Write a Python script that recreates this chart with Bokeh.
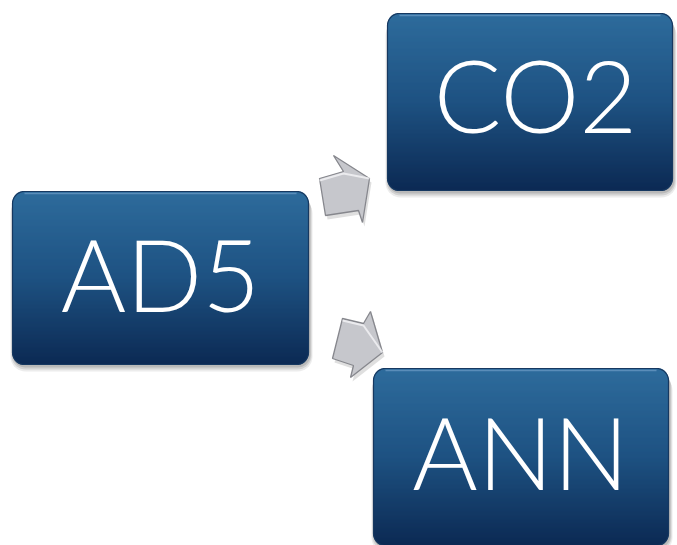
import numpy as np
from bokeh.plotting import figure
from bokeh.models import Range1d
from bokeh.core.properties import value
from bokeh.embed import file_html
from bokeh.resources import INLINE

# ---- diagram content ----
labels = ["AD5", "CO2", "ANN"]
box_left = [12, 387, 373]
box_right = [308, 672, 668]
box_top = [191, 13, 368]
box_bottom = [364, 190, 545]
label_x = [160, 535, 520]
label_baseline = [312, 133, 490]

# arrow outlines (screen px, y downward)
arrow_xs = [
    [319, 343, 333, 369, 362, 358, 325],
    [342, 363, 370, 382, 350, 353, 332],
]
arrow_ys = [
    [178, 171, 155, 178, 222, 210, 215],
    [318, 323, 311, 352, 377, 365, 358],
]

RADIUS = 12
TOP_RGB = (46, 108, 156)
MID_RGB = (30, 82, 130)
BOT_RGB = (12, 42, 84)


def rounded_rect(l, r, t, b, rad, n=10):
    xs, ys = [], []
    corners = [(r - rad, t + rad, -90, 0), (r - rad, b - rad, 0, 90),
               (l + rad, b - rad, 90, 180), (l + rad, t + rad, 180, 270)]
    for cx, cy, a0, a1 in corners:
        for a in np.linspace(np.radians(a0), np.radians(a1), n):
            xs.append(cx + rad * np.cos(a))
            ys.append(cy + rad * np.sin(a))
    return xs, ys


def grad(t):
    if t < 0.5:
        a, b, u = TOP_RGB, MID_RGB, t / 0.5
    else:
        a, b, u = MID_RGB, BOT_RGB, (t - 0.5) / 0.5
    c = [int(round(a[i] + (b[i] - a[i]) * u)) for i in range(3)]
    return "#%02x%02x%02x" % tuple(c)


p = figure(width=677, height=545, x_range=Range1d(0, 677), y_range=Range1d(545, 0),
           output_backend="svg", toolbar_location=None, x_axis_type=None, y_axis_type=None,
           min_border=0)
p.grid.visible = False
p.outline_line_color = None
p.background_fill_color = "white"
p.border_fill_color = "white"

# shadows of boxes
for k in range(3):
    for off, grow, alpha in [(7, 3, 0.10), (5, 2, 0.14), (3, 1, 0.18)]:
        xs, ys = rounded_rect(box_left[k] - grow + 1, box_right[k] + grow + 1,
                              box_top[k] + off, box_bottom[k] + off, RADIUS + grow)
        p.patch(xs, ys, fill_color="#404040", fill_alpha=alpha, line_color=None)

# opaque base for each box
for k in range(3):
    xs, ys = rounded_rect(box_left[k], box_right[k], box_top[k], box_bottom[k], RADIUS)
    p.patch(xs, ys, fill_color=grad(0.5), line_color=None)

# gradient boxes made of overlapping strips
ql, qr, qt, qb, qc = [], [], [], [], []
for k in range(3):
    l, r, t, b = box_left[k], box_right[k], box_top[k], box_bottom[k]
    h = b - t
    for y in range(t, b - 1):
        yc = y + 1.0
        inset = 0.0
        if yc < t + RADIUS:
            dy = t + RADIUS - yc
            inset = RADIUS - np.sqrt(max(RADIUS**2 - dy**2, 0))
        elif yc > b - RADIUS:
            dy = yc - (b - RADIUS)
            inset = RADIUS - np.sqrt(max(RADIUS**2 - dy**2, 0))
        ql.append(l + inset)
        qr.append(r - inset)
        qt.append(y)
        qb.append(y + 2)
        qc.append(grad((yc - t) / h))
p.quad(left=ql, right=qr, top=qt, bottom=qb, fill_color=qc, line_color=None)

# borders and top highlight
for k in range(3):
    xs, ys = rounded_rect(box_left[k], box_right[k], box_top[k], box_bottom[k], RADIUS)
    p.patch(xs, ys, fill_color=None, line_color="#163860", line_width=1.2)
    p.line([box_left[k] + RADIUS, box_right[k] - RADIUS], [box_top[k] + 2, box_top[k] + 2],
           line_color="#6d9cc6", line_width=1.5, line_alpha=0.7)

# arrows
p.patches([[x + 2 for x in xs] for xs in arrow_xs], [[y + 4 for y in ys] for ys in arrow_ys],
          fill_color="#808080", fill_alpha=0.25, line_color=None)
p.patches(arrow_xs, arrow_ys, fill_color="#c6c7cc", line_color="#86878d", line_width=1.3)
for xs, ys in zip(arrow_xs, arrow_ys):
    p.line(xs[0:2] + [xs[3]], [ys[0] + 2, ys[1] + 2, ys[3]], line_color="#f4f4f6", line_width=2, line_alpha=0.8)

# labels
p.text(x=label_x, y=label_baseline, text=labels, text_align="center", text_baseline="alphabetic",
       y_offset=-40, text_color="white", text_font=value("'Lato Light', Lato, sans-serif"),
       text_font_size="100px")

open("out.html", "w").write(file_html(p, INLINE))
